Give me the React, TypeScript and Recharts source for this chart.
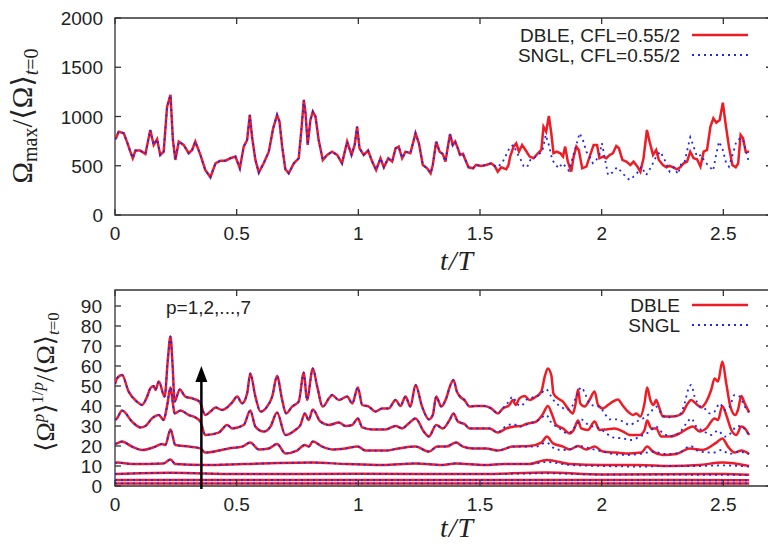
import React from 'react';
import {
  LineChart,
  Line,
  XAxis,
  YAxis,
  ReferenceArea,
  ReferenceLine,
  ReferenceDot,
} from 'recharts';

type Pt = [number, number];

const xTicks = [0, 0.5, 1, 1.5, 2, 2.5];
const maxTicks = [0, 500, 1000, 1500, 2000];
const momentTicks = [0, 10, 20, 30, 40, 50, 60, 70, 80, 90];

// top panel: both runs lie on top of each other until t/T ~ 1.57
const maxShared: Pt[] = [
  [0, 770], [0.004, 779], [0.015, 846], [0.036, 830], [0.049, 745], [0.063, 643], [0.073, 576],
  [0.084, 654], [0.104, 654], [0.125, 620], [0.145, 863], [0.159, 711], [0.173, 769], [0.186, 610],
  [0.2, 643], [0.214, 1100], [0.228, 1219], [0.238, 762], [0.248, 559], [0.262, 745], [0.282, 711],
  [0.303, 627], [0.317, 660], [0.33, 745], [0.351, 610], [0.371, 457], [0.392, 383], [0.413, 525],
  [0.433, 552], [0.454, 552], [0.474, 576], [0.495, 593], [0.513, 474], [0.529, 694], [0.543, 762],
  [0.554, 1016], [0.563, 796], [0.577, 559], [0.591, 430], [0.611, 525], [0.632, 643], [0.65, 880],
  [0.666, 1016], [0.676, 948], [0.687, 694], [0.7, 464], [0.714, 423], [0.735, 525], [0.755, 576],
  [0.766, 863], [0.776, 1168], [0.783, 1033], [0.792, 711], [0.803, 965], [0.813, 1050], [0.824, 999],
  [0.837, 762], [0.854, 559], [0.872, 610], [0.892, 643], [0.913, 610], [0.933, 525], [0.954, 745],
  [0.972, 610], [0.985, 711], [0.995, 897], [1.005, 677], [1.022, 610], [1.04, 654], [1.057, 542],
  [1.073, 457], [1.091, 576], [1.105, 484], [1.123, 576], [1.139, 542], [1.153, 677], [1.166, 694],
  [1.18, 576], [1.194, 643], [1.214, 627], [1.235, 830], [1.249, 728], [1.265, 508], [1.283, 474],
  [1.297, 423], [1.306, 508], [1.32, 745], [1.334, 643], [1.347, 620], [1.358, 542], [1.368, 694],
  [1.377, 823], [1.388, 711], [1.398, 745], [1.409, 677], [1.418, 610], [1.43, 620], [1.44, 559],
  [1.453, 484], [1.471, 474], [1.484, 508], [1.505, 498], [1.525, 508], [1.546, 525], [1.56, 498],
];

const maxDbleTail: Pt[] = [
  [1.573, 440], [1.587, 484], [1.608, 464], [1.617, 508], [1.624, 593], [1.638, 694], [1.649, 728],
  [1.66, 643], [1.673, 711], [1.687, 660], [1.704, 593], [1.72, 576], [1.738, 627], [1.752, 660],
  [1.761, 897], [1.772, 846], [1.783, 1006], [1.793, 830], [1.802, 627], [1.816, 643], [1.83, 627],
  [1.841, 593], [1.85, 694], [1.861, 542], [1.875, 440], [1.885, 593], [1.896, 694], [1.906, 660],
  [1.92, 474], [1.937, 491], [1.953, 610], [1.967, 711], [1.981, 711], [1.991, 576], [2.005, 593],
  [2.019, 576], [2.033, 610], [2.046, 627], [2.06, 701], [2.071, 677], [2.085, 559], [2.101, 542],
  [2.118, 508], [2.131, 542], [2.145, 498], [2.159, 440], [2.172, 576], [2.186, 863], [2.197, 745],
  [2.211, 610], [2.224, 660], [2.235, 559], [2.252, 508], [2.266, 484], [2.279, 498], [2.296, 484],
  [2.309, 464], [2.323, 484], [2.337, 525], [2.351, 542], [2.364, 643], [2.378, 576], [2.392, 566],
  [2.406, 491], [2.419, 643], [2.433, 660], [2.447, 897], [2.459, 982], [2.471, 938], [2.485, 965],
  [2.498, 1141], [2.509, 931], [2.523, 694], [2.537, 508], [2.551, 484], [2.561, 525], [2.571, 813],
  [2.581, 779], [2.592, 643], [2.606, 643],
];

const maxSnglTail: Pt[] = [
  [1.573, 484], [1.594, 542], [1.624, 694], [1.638, 711], [1.652, 627], [1.665, 576], [1.679, 498],
  [1.693, 484], [1.707, 559], [1.72, 576], [1.738, 610], [1.756, 643], [1.77, 813], [1.783, 711],
  [1.797, 559], [1.811, 508], [1.824, 474], [1.838, 525], [1.852, 491], [1.865, 450], [1.882, 593],
  [1.896, 711], [1.909, 830], [1.923, 762], [1.937, 643], [1.95, 593], [1.964, 525], [1.978, 559],
  [1.991, 610], [2.001, 728], [2.012, 593], [2.026, 406], [2.044, 430], [2.063, 484], [2.081, 440],
  [2.098, 390], [2.115, 356], [2.131, 390], [2.145, 423], [2.163, 491], [2.183, 406], [2.204, 491],
  [2.224, 593], [2.241, 643], [2.259, 559], [2.279, 440], [2.296, 484], [2.314, 416], [2.327, 525],
  [2.341, 542], [2.355, 694], [2.364, 789], [2.378, 694], [2.392, 593], [2.409, 610], [2.423, 542],
  [2.441, 498], [2.458, 450], [2.469, 593], [2.482, 745], [2.496, 677], [2.51, 542], [2.523, 491],
  [2.54, 627], [2.553, 745], [2.57, 779], [2.584, 745], [2.595, 627], [2.606, 525],
];

// bottom panel, moments p = 7 ... 1
const p7Shared: Pt[] = [
  [0, 51], [0.008, 53.8], [0.029, 55.5], [0.056, 47.2], [0.09, 42.2], [0.111, 40.5], [0.132, 44.7],
  [0.145, 48.8], [0.159, 50], [0.166, 48], [0.18, 52.2], [0.204, 44.7], [0.217, 63], [0.228, 74.7],
  [0.237, 59.7], [0.245, 42.2], [0.266, 48.3], [0.289, 44.7], [0.317, 43.8], [0.347, 42.2],
  [0.371, 35.5], [0.392, 37.2], [0.413, 39.3], [0.44, 38], [0.481, 41.7], [0.502, 44.7], [0.522, 41.3],
  [0.543, 46.3], [0.556, 56.3], [0.577, 44.7], [0.598, 37.2], [0.625, 39.7], [0.646, 44.7], [0.666, 55],
  [0.687, 43], [0.703, 36.3], [0.728, 39.7], [0.755, 42.2], [0.776, 56.7], [0.789, 43], [0.813, 58.8],
  [0.831, 49.7], [0.854, 39.7], [0.879, 43.8], [0.892, 45.5], [0.92, 43], [0.954, 44.7], [0.975, 41.3],
  [0.998, 49.3], [1.016, 40.5], [1.043, 39.7], [1.07, 37.2], [1.098, 38.8], [1.125, 38.8], [1.153, 43],
  [1.173, 40], [1.194, 44.7], [1.214, 39.7], [1.235, 50.5], [1.262, 39.7], [1.29, 33.3], [1.306, 35.5],
  [1.32, 44.7], [1.341, 39.7], [1.361, 43.8], [1.377, 50], [1.391, 53], [1.405, 47.2], [1.418, 44.7],
  [1.436, 43], [1.457, 39.7], [1.484, 40], [1.518, 40], [1.546, 38.8], [1.573, 36.3],
];
const p7Dble: Pt[] = [
  [1.594, 38.8], [1.621, 40.5], [1.635, 43], [1.646, 40.5], [1.662, 43.8], [1.683, 45], [1.704, 43],
  [1.731, 44.7], [1.752, 47.2], [1.766, 54.7], [1.779, 58.8], [1.793, 55.5], [1.802, 46.3], [1.82, 43.8],
  [1.841, 42.2], [1.861, 38.8], [1.882, 36.3], [1.893, 41.3], [1.903, 48.3], [1.912, 41.3], [1.93, 39.7],
  [1.95, 43], [1.971, 47.2], [1.985, 40.5], [2.005, 38.8], [2.026, 40.5], [2.046, 42.2], [2.067, 43.3],
  [2.085, 40.5], [2.108, 37.2], [2.128, 35.5], [2.142, 36.3], [2.159, 34.7], [2.176, 41.3], [2.187, 49.3],
  [2.2, 43], [2.213, 40.5], [2.224, 43], [2.235, 39.7], [2.252, 34.7], [2.279, 34.7], [2.307, 35],
  [2.331, 36.3], [2.35, 40.5], [2.368, 43], [2.389, 41], [2.409, 39.3], [2.43, 42.2], [2.45, 48],
  [2.464, 53.8], [2.478, 52.2], [2.496, 62.2], [2.512, 51.3], [2.529, 39.7], [2.549, 35.5], [2.56, 38],
  [2.574, 45], [2.588, 41.3], [2.606, 36.7],
];
const p7Sngl: Pt[] = [
  [1.594, 38.8], [1.615, 41.7], [1.635, 44.7], [1.649, 41.7], [1.669, 40], [1.69, 43], [1.717, 44.3],
  [1.745, 45.5], [1.772, 48.3], [1.793, 44.7], [1.813, 41.3], [1.834, 39.7], [1.854, 38], [1.875, 39.3],
  [1.896, 44.7], [1.916, 49.3], [1.934, 45.5], [1.95, 41.3], [1.971, 40], [1.991, 39.7], [2.012, 36.3],
  [2.033, 33.3], [2.06, 33.3], [2.088, 32.2], [2.115, 30.5], [2.142, 32.2], [2.17, 33.8], [2.197, 36.3],
  [2.224, 39.7], [2.245, 36.3], [2.265, 34.3], [2.293, 34.7], [2.318, 35.5], [2.341, 41.3], [2.355, 48],
  [2.368, 50.5], [2.382, 44.7], [2.403, 40], [2.423, 38.8], [2.444, 36.3], [2.464, 37.2], [2.485, 41.3],
  [2.505, 38], [2.526, 39.7], [2.546, 45.5], [2.567, 44.7], [2.588, 39.7], [2.606, 37.2],
];

const p6Shared: Pt[] = [
  [0, 33], [0.008, 33.8], [0.029, 37.7], [0.07, 32.2], [0.104, 29.3], [0.125, 30], [0.152, 33.8],
  [0.18, 35.5], [0.2, 33], [0.214, 40], [0.228, 49.3], [0.237, 42], [0.245, 36.3], [0.269, 37.7],
  [0.303, 35.5], [0.33, 34.3], [0.351, 32.2], [0.371, 25.5], [0.426, 26.7], [0.461, 30.5], [0.481, 28.8],
  [0.529, 30.5], [0.556, 37.7], [0.577, 29.7], [0.611, 27.2], [0.639, 29.7], [0.666, 36.7], [0.7, 25.5],
  [0.741, 28], [0.762, 30.5], [0.78, 36.3], [0.796, 33], [0.813, 38.3], [0.844, 32.2], [0.879, 30.5],
  [0.92, 31.7], [0.947, 30], [0.975, 30.5], [0.998, 33.8], [1.016, 29.3], [1.057, 28.3], [1.112, 28.3],
  [1.153, 30], [1.18, 28.8], [1.207, 31.3], [1.235, 33.8], [1.269, 27.2], [1.29, 24.7], [1.32, 30.5],
  [1.347, 28.8], [1.375, 33], [1.391, 36.3], [1.409, 32.2], [1.436, 31], [1.457, 28.8], [1.498, 28.8],
  [1.539, 28.8], [1.573, 26.7],
];
const p6Dble: Pt[] = [
  [1.608, 28.8], [1.642, 29.7], [1.669, 30], [1.69, 31], [1.731, 32.2], [1.756, 35.5], [1.779, 40],
  [1.797, 35.5], [1.813, 30.5], [1.841, 28.8], [1.868, 26.3], [1.885, 28], [1.903, 32.7], [1.916, 28.8],
  [1.943, 28], [1.971, 32.2], [1.991, 28], [2.019, 28.3], [2.053, 28.8], [2.088, 27.2], [2.115, 25.5],
  [2.156, 25.5], [2.176, 28], [2.187, 32.7], [2.204, 28.8], [2.224, 28.8], [2.245, 24.7], [2.279, 24.7],
  [2.32, 26.3], [2.354, 28.8], [2.375, 29.7], [2.403, 27.2], [2.43, 28.8], [2.464, 33.8], [2.478, 33],
  [2.496, 40], [2.512, 35.5], [2.533, 28], [2.553, 25.5], [2.574, 29.7], [2.588, 28.8], [2.606, 25.5],
];
const p6Sngl: Pt[] = [
  [1.594, 28.8], [1.635, 31], [1.662, 29.7], [1.704, 31.3], [1.745, 33.3], [1.772, 35.5], [1.793, 31.7],
  [1.827, 28.8], [1.861, 26.3], [1.896, 30.5], [1.916, 33.3], [1.937, 31.3], [1.964, 29.7], [1.991, 28.8],
  [2.019, 26.3], [2.046, 24.3], [2.088, 23.8], [2.122, 23], [2.156, 24.7], [2.197, 27.2], [2.224, 29.7],
  [2.252, 26.3], [2.286, 25], [2.32, 26.7], [2.348, 31.3], [2.368, 33.8], [2.389, 29.7], [2.416, 27.7],
  [2.45, 25.5], [2.478, 27.7], [2.505, 24.7], [2.533, 26.7], [2.553, 29.7], [2.574, 30], [2.595, 27.2],
  [2.606, 25.5],
];

const p5Shared: Pt[] = [
  [0, 21], [0.008, 21.3], [0.029, 22.2], [0.07, 19.7], [0.111, 18], [0.166, 19.7], [0.193, 21],
  [0.207, 20.5], [0.228, 28.3], [0.248, 20.5], [0.303, 19.7], [0.351, 18.8], [0.371, 16.7], [0.426, 17.7],
  [0.467, 18.8], [0.522, 19.7], [0.556, 21.7], [0.591, 18.3], [0.632, 18.8], [0.666, 21], [0.7, 16.3],
  [0.748, 17.7], [0.78, 20.5], [0.796, 19.7], [0.813, 22.2], [0.851, 19.7], [0.892, 18.3], [0.947, 18.8],
  [0.998, 19.7], [1.029, 17.7], [1.112, 17.7], [1.166, 18.8], [1.235, 19.7], [1.29, 17.2], [1.324, 19.7],
  [1.361, 19.7], [1.402, 21.7], [1.43, 19.7], [1.471, 18.8], [1.525, 18.8], [1.573, 17.7],
];
const p5Dble: Pt[] = [
  [1.635, 19.7], [1.704, 20], [1.752, 21.7], [1.775, 24.7], [1.8, 21.3], [1.841, 19.7], [1.868, 18.3],
  [1.903, 20], [1.937, 18.3], [1.971, 19.7], [2.005, 17.2], [2.06, 16.7], [2.115, 16.3], [2.163, 16.7],
  [2.187, 19.7], [2.211, 17.2], [2.252, 15.5], [2.307, 16], [2.361, 18.8], [2.416, 18], [2.471, 21.7],
  [2.496, 23.8], [2.519, 19.7], [2.546, 16.7], [2.574, 17.7], [2.606, 16],
];
const p5Sngl: Pt[] = [
  [1.635, 19.7], [1.731, 19.7], [1.772, 21.7], [1.813, 18.3], [1.854, 18], [1.909, 20], [1.95, 18.8],
  [2.005, 17.2], [2.046, 16], [2.101, 15.5], [2.156, 16], [2.211, 17.2], [2.265, 16], [2.32, 16.7],
  [2.364, 20], [2.403, 17.2], [2.458, 16.7], [2.492, 18], [2.526, 16], [2.56, 17.2], [2.606, 16],
];

const p4Shared: Pt[] = [
  [0, 11.5], [0.01, 11.7], [0.07, 11], [0.2, 11.3], [0.228, 13.3], [0.248, 11], [0.371, 10.5],
  [0.53, 11], [0.81, 11.7], [0.95, 11], [1.1, 10.5], [1.235, 11.3], [1.345, 10.5], [1.4, 11.3],
  [1.52, 10.5], [1.6, 11],
];
const p4Dble: Pt[] = [
  [1.7, 11], [1.775, 13], [1.87, 11], [2.0, 10.5], [2.15, 10.5], [2.28, 10], [2.4, 10.5], [2.496, 11.7], [2.606, 10],
];
const p4Sngl: Pt[] = [
  [1.7, 11], [1.775, 12], [1.87, 10.5], [2.0, 10], [2.15, 9.7], [2.28, 10], [2.4, 10], [2.496, 10.3], [2.606, 9.7],
];

const p3Shared: Pt[] = [[0, 6], [0.228, 6.6], [0.5, 6], [1.0, 6.1], [1.5, 6]];
const p3Dble: Pt[] = [[1.775, 6.7], [2.0, 5.8], [2.5, 6], [2.606, 5.6]];
const p3Sngl: Pt[] = [[1.775, 6.3], [2.0, 5.7], [2.5, 5.6], [2.606, 5.4]];

const p2Shared: Pt[] = [[0, 3], [1.0, 3], [1.5, 3]];
const p2Dble: Pt[] = [[2.606, 2.9]];
const p2Sngl: Pt[] = [[2.606, 2.8]];

const p1Shared: Pt[] = [[0, 1.3], [1.5, 1.3]];
const p1Dble: Pt[] = [[2.606, 1.3]];
const p1Sngl: Pt[] = [[2.606, 1.3]];

const arrowT = 0.355;
const arrowTip = 60;

const toRows = (pts: Pt[]) => pts.map(([t, v]) => ({ t, v }));

const moments = [
  { p: 7, dble: [...p7Shared, ...p7Dble], sngl: [...p7Shared, ...p7Sngl] },
  { p: 6, dble: [...p6Shared, ...p6Dble], sngl: [...p6Shared, ...p6Sngl] },
  { p: 5, dble: [...p5Shared, ...p5Dble], sngl: [...p5Shared, ...p5Sngl] },
  { p: 4, dble: [...p4Shared, ...p4Dble], sngl: [...p4Shared, ...p4Sngl] },
  { p: 3, dble: [...p3Shared, ...p3Dble], sngl: [...p3Shared, ...p3Sngl] },
  { p: 2, dble: [...p2Shared, ...p2Dble], sngl: [...p2Shared, ...p2Sngl] },
  { p: 1, dble: [...p1Shared, ...p1Dble], sngl: [...p1Shared, ...p1Sngl] },
];

const RED = '#ee1c24';
const BLUE = '#2424ee';
const AXIS = '#333';
const INK = '#222';
const SANS = '"Liberation Sans", Arial, Helvetica, sans-serif';
const SERIF = '"Liberation Serif", "DejaVu Serif", serif';

const X_MAX = 2.7;
const W = 790;
const H = 272;
const M = { top: 18, right: 18, left: 0, bottom: 0 };
const Y_W = 115;
const PLOT_W = W - Y_W - M.right;

// gnuplot style: ticks point inward and are mirrored on the opposite border
const xTick = (plotH: number) => (props: any) => {
  const { x, y, payload } = props;
  return (
    <g>
      <line x1={x} x2={x} y1={y} y2={y - 6} stroke={AXIS} strokeWidth={1.3} />
      <line x1={x} x2={x} y1={y - plotH} y2={y - plotH + 6} stroke={AXIS} strokeWidth={1.3} />
      <text x={x} y={y + 25} textAnchor="middle" fontFamily={SANS} fontSize={19} fill={INK}>
        {payload.value}
      </text>
    </g>
  );
};

const yTick = (gap: number) => (props: any) => {
  const { x, y, payload } = props;
  return (
    <g>
      <line x1={x} x2={x + 6} y1={y} y2={y} stroke={AXIS} strokeWidth={1.3} />
      <line x1={x + PLOT_W - 6} x2={x + PLOT_W} y1={y} y2={y} stroke={AXIS} strokeWidth={1.3} />
      <text x={x - gap} y={y + 7} textAnchor="end" fontFamily={SANS} fontSize={19} fill={INK}>
        {payload.value}
      </text>
    </g>
  );
};

const arrowHead = (props: any) => {
  const { cx, cy } = props;
  return <path d={`M${cx},${cy} L${cx - 6},${cy + 16} L${cx + 6},${cy + 16} Z`} fill="#000" />;
};

function MaxPanel() {
  const dble = toRows([...maxShared, ...maxDbleTail]);
  const sngl = toRows([...maxShared, ...maxSnglTail]);
  return (
    <LineChart width={W} height={H} margin={M}>
      <XAxis
        dataKey="t"
        type="number"
        domain={[0, X_MAX]}
        ticks={xTicks}
        interval={0}
        allowDataOverflow
        height={57}
        axisLine={false}
        tickLine={false}
        tickSize={0}
        tickMargin={0}
        tick={xTick(197)}
      />
      <YAxis
        type="number"
        domain={[0, 2000]}
        ticks={maxTicks}
        interval={0}
        width={Y_W}
        axisLine={false}
        tickLine={false}
        tickSize={0}
        tickMargin={0}
        tick={yTick(12)}
      />
      <ReferenceArea x1={0} x2={X_MAX} y1={0} y2={2000} fill="none" stroke={AXIS} strokeWidth={1.3} />
      <Line data={dble} dataKey="v" type="linear" stroke={RED} strokeWidth={2.5} dot={false} isAnimationActive={false} />
      <Line
        data={sngl}
        dataKey="v"
        type="linear"
        stroke={BLUE}
        strokeWidth={1.8}
        strokeDasharray="2 4"
        dot={false}
        isAnimationActive={false}
      />
    </LineChart>
  );
}

function MomentPanel() {
  return (
    <LineChart width={W} height={H} margin={M}>
      <XAxis
        dataKey="t"
        type="number"
        domain={[0, X_MAX]}
        ticks={xTicks}
        interval={0}
        allowDataOverflow
        height={58}
        axisLine={false}
        tickLine={false}
        tickSize={0}
        tickMargin={0}
        tick={xTick(196)}
      />
      <YAxis
        type="number"
        domain={[0, 98]}
        ticks={momentTicks}
        interval={0}
        allowDataOverflow
        width={Y_W}
        axisLine={false}
        tickLine={false}
        tickSize={0}
        tickMargin={0}
        tick={yTick(13)}
      />
      <ReferenceArea x1={0} x2={X_MAX} y1={0} y2={98} fill="none" stroke={AXIS} strokeWidth={1.3} />
      {moments.map((m) => (
        <Line
          key={`d${m.p}`}
          data={toRows(m.dble)}
          dataKey="v"
          type="monotone"
          stroke={RED}
          strokeWidth={2.5}
          dot={false}
          isAnimationActive={false}
        />
      ))}
      {moments.map((m) => (
        <Line
          key={`s${m.p}`}
          data={toRows(m.sngl)}
          dataKey="v"
          type="monotone"
          stroke={BLUE}
          strokeWidth={1.8}
          strokeDasharray="2 4"
          dot={false}
          isAnimationActive={false}
        />
      ))}
      <ReferenceLine
        segment={[{ x: arrowT, y: -1.5 }, { x: arrowT, y: arrowTip - 6 }]}
        stroke="#000"
        strokeWidth={2.5}
        ifOverflow="visible"
      />
      <ReferenceDot x={arrowT} y={arrowTip} r={6} shape={arrowHead} ifOverflow="visible" />
    </LineChart>
  );
}

function Overlay() {
  const legend = (y: number, label: string, color: string, dashed: boolean) => (
    <g>
      <text x={680} y={y + 7} textAnchor="end" fontFamily={SANS} fontSize={19} fill={INK}>
        {label}
      </text>
      <line
        x1={692}
        x2={748}
        y1={y}
        y2={y}
        stroke={color}
        strokeWidth={dashed ? 1.8 : 2.5}
        strokeDasharray={dashed ? '2 4' : undefined}
      />
    </g>
  );
  return (
    <svg width={768} height={544} style={{ position: 'absolute', left: 0, top: 0, pointerEvents: 'none' }}>
      {legend(35, 'DBLE, CFL=0.55/2', RED, false)}
      {legend(55, 'SNGL, CFL=0.55/2', BLUE, true)}
      {legend(305, 'DBLE', RED, false)}
      {legend(325, 'SNGL', BLUE, true)}
      <text x={166} y={314} fontFamily={SANS} fontSize={19} fill={INK}>
        p=1,2,...,7
      </text>
      <text x={457} y={270} textAnchor="middle" fontFamily={SERIF} fontStyle="italic" fontSize={28} letterSpacing={1} fill={INK}>
        t/T
      </text>
      <text x={457} y={537} textAnchor="middle" fontFamily={SERIF} fontStyle="italic" fontSize={28} letterSpacing={1} fill={INK}>
        t/T
      </text>
      <text transform="translate(32,116) rotate(-90)" textAnchor="middle" fontFamily={SERIF} fontSize={29} fill={INK}>
        Ω<tspan fontSize={20} dy={5}>max</tspan>
        <tspan dy={-5}>/⟨Ω⟩</tspan>
        <tspan fontSize={20} dy={6} fontStyle="italic">t</tspan>
        <tspan fontSize={20}>=0</tspan>
      </text>
      <text transform="translate(54,382) rotate(-90)" textAnchor="middle" fontFamily={SERIF} fontSize={26} fill={INK}>
        ⟨Ω<tspan fontSize={17} dy={-10} fontStyle="italic">p</tspan>
        <tspan dy={10}>⟩</tspan>
        <tspan fontSize={17} dy={-11}>1/</tspan>
        <tspan fontSize={17} fontStyle="italic">p</tspan>
        <tspan dy={11}>/⟨Ω⟩</tspan>
        <tspan fontSize={17} dy={5} fontStyle="italic">t</tspan>
        <tspan fontSize={17}>=0</tspan>
      </text>
    </svg>
  );
}

export default function App() {
  return (
    <div style={{ position: 'absolute', left: 0, top: 0, width: 768, height: 544, overflow: 'hidden', background: '#fff' }}>
      <div style={{ position: 'absolute', left: 0, top: 0 }}>
        <MaxPanel />
      </div>
      <div style={{ position: 'absolute', left: 0, top: 272 }}>
        <MomentPanel />
      </div>
      <Overlay />
    </div>
  );
}
